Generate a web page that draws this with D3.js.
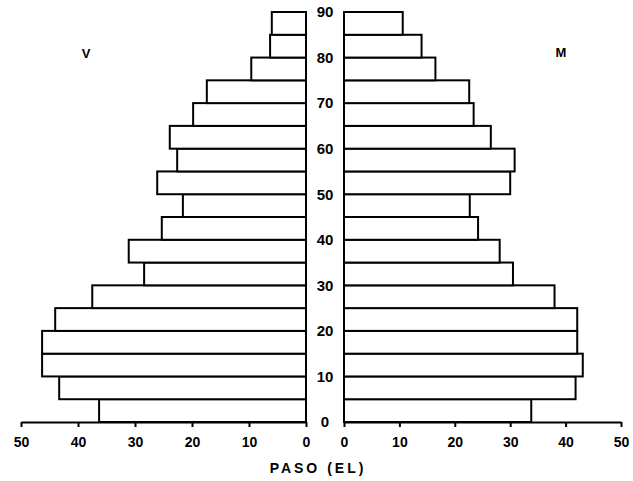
<!DOCTYPE html>
<html>
<head>
<meta charset="utf-8">
<script src="https://cdn.jsdelivr.net/npm/d3@7"></script>
<style>
  body { margin: 0; background: #fff; }
  svg { display: block; }
  .tick text { font-family: "Liberation Sans", Arial, sans-serif; font-weight: bold; font-size: 13px; fill: #000; }
  .lbl { font-family: "Liberation Sans", Arial, sans-serif; font-weight: bold; fill: #000; }
</style>
</head>
<body>
<div id="chart"></div>
<script>
// age groups (lower bound, 5-year classes)
const ageStarts = [0, 5, 10, 15, 20, 25, 30, 35, 40, 45, 50, 55, 60, 65, 70, 75, 80, 85];
// V (left) and M (right)
const valuesV = [36.3, 43.3, 46.3, 46.3, 44.0, 37.5, 28.4, 31.1, 25.3, 21.6, 26.1, 22.6, 23.9, 19.8, 17.4, 9.6, 6.3, 6.0];
const valuesM = [33.8, 41.8, 43.1, 42.1, 42.1, 38.0, 30.5, 28.1, 24.2, 22.7, 30.0, 30.8, 26.5, 23.4, 22.6, 16.5, 14.0, 10.6];
const xTicks = [0, 10, 20, 30, 40, 50];
const ageTicks = [0, 10, 20, 30, 40, 50, 60, 70, 80, 90];

const width = 633, height = 481;
const svg = d3.select("#chart").append("svg")
    .attr("width", width)
    .attr("height", height);

const xL = d3.scaleLinear().domain([0, 50]).range([306, 21]);
const xR = d3.scaleLinear().domain([0, 50]).range([344, 621]);
const y = d3.scaleLinear().domain([0, 90]).range([422, 12]);

const rows = ageStarts.map((a, i) => ({ age: a, v: valuesV[i], m: valuesM[i] }));

// left bars (V)
svg.selectAll(".barV")
    .data(rows)
    .join("rect")
    .attr("class", "barV")
    .attr("x", d => xL(d.v))
    .attr("y", d => y(d.age + 5))
    .attr("width", d => xL(0) - xL(d.v))
    .attr("height", d => y(d.age) - y(d.age + 5))
    .attr("fill", "#fff")
    .attr("stroke", "#000")
    .attr("stroke-width", 2);

// right bars (M)
svg.selectAll(".barM")
    .data(rows)
    .join("rect")
    .attr("class", "barM")
    .attr("x", xR(0))
    .attr("y", d => y(d.age + 5))
    .attr("width", d => xR(d.m) - xR(0))
    .attr("height", d => y(d.age) - y(d.age + 5))
    .attr("fill", "#fff")
    .attr("stroke", "#000")
    .attr("stroke-width", 2);

// x axes
function styleAxis(g) {
    g.select(".domain").attr("stroke", "#000").attr("stroke-width", 2);
    g.selectAll(".tick line").attr("stroke", "#000").attr("stroke-width", 2);
    g.selectAll(".tick text").attr("dy", "0.9em").style("font-size", "14px");
}

svg.append("g")
    .attr("class", "x axis left")
    .attr("transform", `translate(0,${y(0)})`)
    .call(d3.axisBottom(xL).tickValues(xTicks).tickSize(5).tickSizeOuter(0).tickPadding(7))
    .call(styleAxis);

svg.append("g")
    .attr("class", "x axis right")
    .attr("transform", `translate(0,${y(0)})`)
    .call(d3.axisBottom(xR).tickValues(xTicks).tickSize(5).tickSizeOuter(0).tickPadding(7))
    .call(styleAxis);

// age labels in the middle
svg.append("g")
    .attr("class", "y axis")
    .attr("transform", `translate(325,0)`)
    .call(d3.axisRight(y).tickValues(ageTicks).tickSize(0).tickPadding(0))
    .call(g => g.select(".domain").remove())
    .call(g => g.selectAll(".tick text")
        .attr("text-anchor", "middle")
        .style("font-size", "15px"));

// labels
svg.append("text")
    .attr("class", "lbl")
    .attr("x", 86)
    .attr("y", 58)
    .attr("text-anchor", "middle")
    .style("font-size", "13px")
    .text("V");

svg.append("text")
    .attr("class", "lbl")
    .attr("x", 561)
    .attr("y", 57)
    .attr("text-anchor", "middle")
    .style("font-size", "13px")
    .text("M");

svg.append("text")
    .attr("class", "lbl")
    .attr("x", 318)
    .attr("y", 473)
    .attr("text-anchor", "middle")
    .style("font-size", "14px")
    .style("letter-spacing", "3px")
    .text("PASO (EL)");
</script>
</body>
</html>
